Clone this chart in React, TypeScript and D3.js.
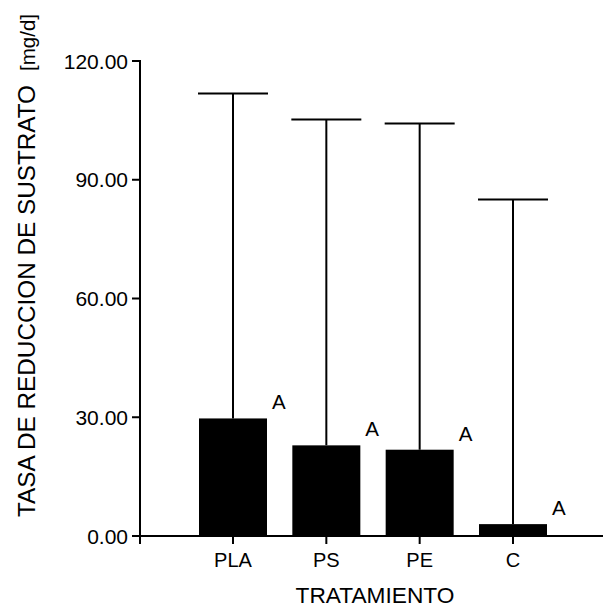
import React from "react";
import * as d3 from "d3";

const categories = ["PLA", "PS", "PE", "C"];
const means = [29.7, 22.9, 21.8, 3.0];
const upperErrors = [111.8, 105.2, 104.2, 85.0];
const letters = ["A", "A", "A", "A"];
const yTicks = [0, 30, 60, 90, 120];

const W = 603;
const H = 607;

export default function App() {
  const x = d3.scalePoint<string>().domain(categories).range([233, 513]);
  const y = d3.scaleLinear().domain([0, 120]).range([536, 61]);
  const barW = 68;
  const capW = 70;
  const font = "Arial, 'Liberation Sans', Helvetica, sans-serif";
  const axisX = 140;
  const y0 = y(0);

  return (
    <svg
      width={W}
      height={H}
      style={{ position: "absolute", left: 0, top: 0, background: "#fff" }}
      fontFamily={font}
    >
      <rect x={0} y={0} width={W} height={H} fill="#fff" />
      {categories.map((c, i) => {
        const cx = x(c)!;
        return (
          <g key={c}>
            <line x1={cx} x2={cx} y1={y(means[i])} y2={y(upperErrors[i])} stroke="#000" strokeWidth={2} />
            <line x1={cx - capW / 2} x2={cx + capW / 2} y1={y(upperErrors[i])} y2={y(upperErrors[i])} stroke="#000" strokeWidth={2} />
            <rect x={cx - barW / 2} y={y(means[i])} width={barW} height={y0 - y(means[i])} fill="#000" />
            <text x={cx + barW / 2 + 5} y={y(means[i]) - 9} fontSize={20.5} fill="#000">
              {letters[i]}
            </text>
          </g>
        );
      })}
      <line x1={axisX - 2} x2={W + 5} y1={y0} y2={y0} stroke="#000" strokeWidth={2} />
      {categories.map((c) => (
        <g key={"xt" + c}>
          <line x1={x(c)} x2={x(c)} y1={y0} y2={y0 + 8} stroke="#000" strokeWidth={2} />
          <text x={x(c)} y={567} textAnchor="middle" fontSize={20} fill="#000">
            {c}
          </text>
        </g>
      ))}
      <line x1={axisX} x2={axisX} y1={y(120) - 1} y2={y0 + 8} stroke="#000" strokeWidth={2} />
      {yTicks.map((t) => (
        <g key={"yt" + t}>
          <line x1={axisX - 8} x2={axisX} y1={y(t)} y2={y(t)} stroke="#000" strokeWidth={2} />
          <text x={128} y={y(t)} dy="0.36em" textAnchor="end" fontSize={21} fill="#000">
            {t.toFixed(2)}
          </text>
        </g>
      ))}
      <text x={375} y={603} textAnchor="middle" fontSize={22.7} fill="#000">
        TRATAMIENTO
      </text>
      <text transform="translate(35,517) rotate(-90)" fontSize={24.3} fill="#000">
        TASA DE REDUCCION DE SUSTRATO
        <tspan fontSize={20.5} dx={14}>[mg/d]</tspan>
      </text>
    </svg>
  );
}
